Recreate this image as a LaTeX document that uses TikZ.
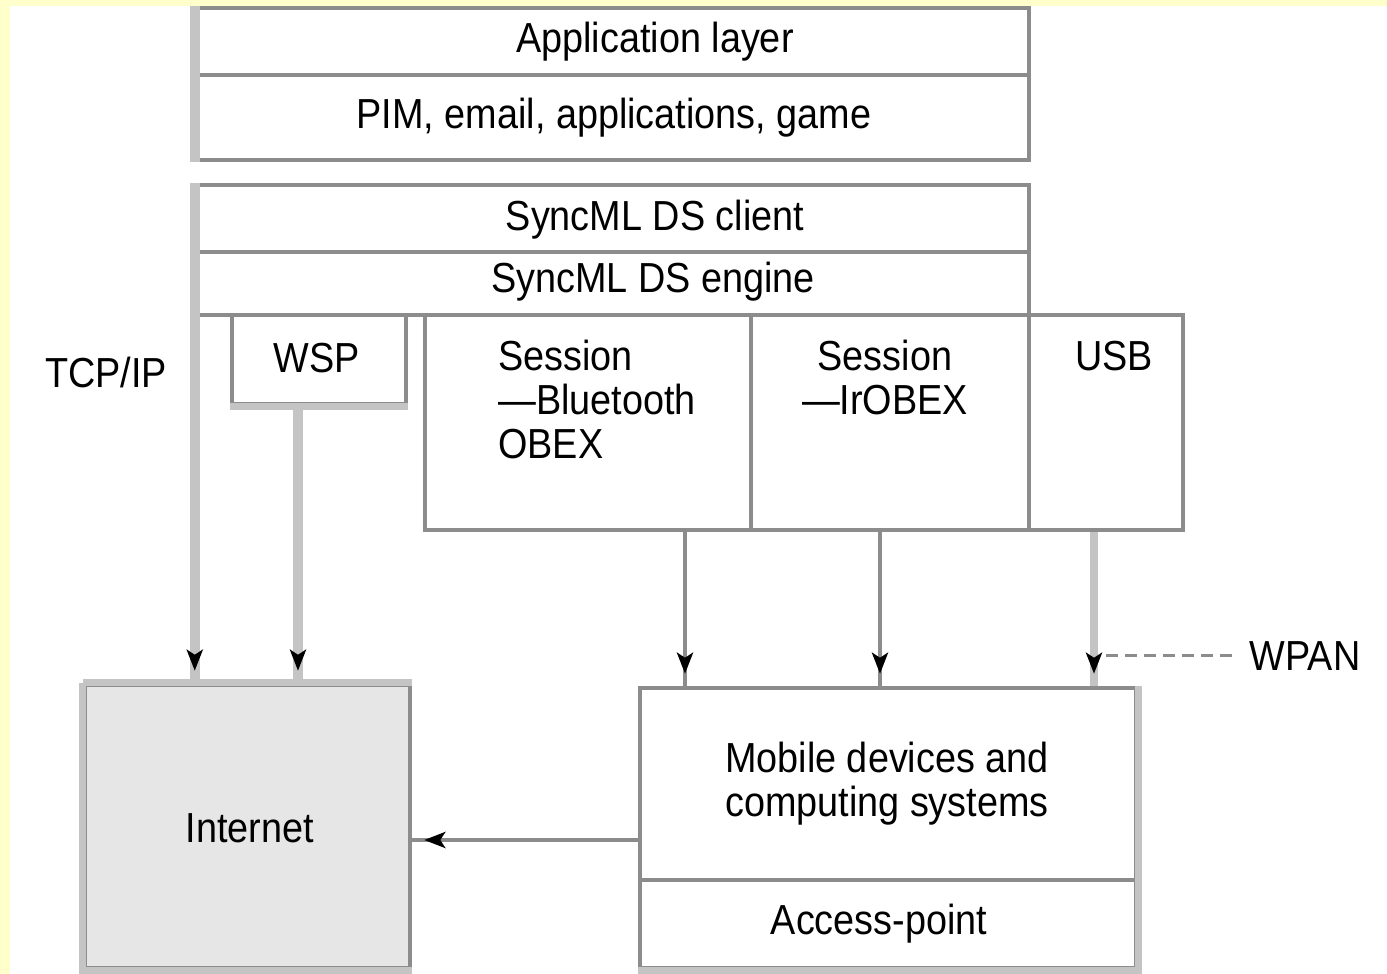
\documentclass[tikz,border=0pt]{standalone}
\usepackage{fontspec}
\setmainfont{Liberation Sans}[FakeStretch=0.9]
\usetikzlibrary{arrows.meta,decorations.markings}
\definecolor{bgy}{HTML}{FFFFCC}
\definecolor{lineg}{HTML}{8C8C8C}
\definecolor{lightg}{HTML}{C4C4C4}
\definecolor{fillg}{HTML}{E6E6E6}
\newcommand\dfont{\fontsize{42}{44}\selectfont}
\begin{document}
\begin{tikzpicture}[x=1pt,y=-1pt,
  cell/.style={draw=lineg, line width=4.5pt, rectangle, inner sep=0pt},
  txt/.style={font=\dfont, text=black, inner sep=0pt},
  ltline/.style={draw=lightg, line width=10pt},
  dkline/.style={draw=lineg, line width=4pt},
  tipmark/.style={postaction={decorate}, decoration={markings,
      mark=at position -12pt with {\arrow[black]{Stealth[length=21pt,width=16pt,inset=5pt]}}}},
  dashln/.style={draw=lineg, line width=3pt, dash pattern=on 12pt off 7pt}
]
\useasboundingbox (0,0) rectangle (1387,974);
\fill[bgy] (0,0) rectangle (1387,974);
\fill[white] (10,6) rectangle (1387,974);

% top stack
\node[cell, minimum width=832pt, minimum height=67pt] (app) at (613,41.5) {};
\node[cell, minimum width=832pt, minimum height=85pt] (pim) at (613,117.5) {};
\node[cell, minimum width=832pt, minimum height=67pt] (client) at (613,218.5) {};
\node[cell, minimum width=832pt, minimum height=63pt] (engine) at (613,283.5) {};
\node[cell, minimum width=174pt, minimum height=89pt] (wsp) at (319,359.5) {};
\node[cell, minimum width=326pt, minimum height=215pt] (bt) at (588,422.5) {};
\node[cell, minimum width=278pt, minimum height=215pt] (ir) at (890,422.5) {};
\node[cell, minimum width=154pt, minimum height=215pt] (usb) at (1106,422.5) {};

% bottom boxes
\node[cell, fill=fillg, minimum width=325pt, minimum height=283pt] (internet) at (247.5,826.5) {};
\node[cell, minimum width=496pt, minimum height=192pt] (mobile) at (888,784) {};
\node[cell, minimum width=496pt, minimum height=88pt] (access) at (888,924) {};

% light edges
\draw[ltline] (app.north west) -- (pim.south west);
\draw[draw=lightg, line width=7pt] (wsp.south west) -- (wsp.south east);
\draw[draw=lightg, line width=7pt] (internet.north west) -- (internet.north east);
\draw[draw=lightg, line width=7pt] (internet.north west) -- (internet.south west) -- (internet.south east);
\draw[draw=lightg, line width=7pt] (mobile.north east) -- (access.south east) -- (access.south west);

% texts
\node[txt, anchor=base] (tapp) at (655,53) {Application layer};
\node[txt, anchor=base] (tpim) at (614,128) {PIM, email, applications, game};
\node[txt, anchor=base] (tclient) at (655,230) {SyncML DS client};
\node[txt, anchor=base] (tengine) at (653,292) {SyncML DS engine};
\node[txt, anchor=base] (twsp) at (317,372) {WSP};
\node[txt, anchor=base] (tusb) at (1114,370) {USB};
\node[txt, anchor=base] (ttcp) at (106,387) {TCP/IP};
\node[txt, anchor=base] (wpan) at (1305,670) {WPAN};
\node[txt, anchor=base] (tinternet) at (250,842) {Internet};
\node[txt, anchor=base] (taccess) at (879,934) {Access-point};
\node[txt, anchor=north west, align=left] (tbt) at (498,340) {Session\\—Bluetooth\\OBEX};
\node[txt, anchor=north, align=center] (tir) at (885,340) {Session\\—IrOBEX};
\node[txt, anchor=north west, align=left] (tmobile) at (725,742) {Mobile devices and\\computing systems};

% connectors
\draw[ltline, tipmark] (client.north west) -- (client.north west |- internet.north);
\draw[ltline, tipmark] ([xshift=-21pt]wsp.south) -- ([xshift=-21pt]wsp.south |- internet.north);
\draw[dkline, tipmark] ([xshift=97pt]bt.south) -- ([xshift=97pt]bt.south |- mobile.north);
\draw[dkline, tipmark] ([xshift=-10pt]ir.south) -- ([xshift=-10pt]ir.south |- mobile.north);
\draw[ltline, line width=8pt, tipmark] ([xshift=-12pt]usb.south) -- ([xshift=-12pt]usb.south |- mobile.north);
\draw[dkline, tipmark] ([yshift=-56pt]mobile.west) -- ([yshift=-56pt]mobile.west -| internet.east);
\draw[dashln] ([xshift=-18pt]wpan.west) -- ([xshift=-6pt]usb.south |- wpan.west);
\end{tikzpicture}
\end{document}
